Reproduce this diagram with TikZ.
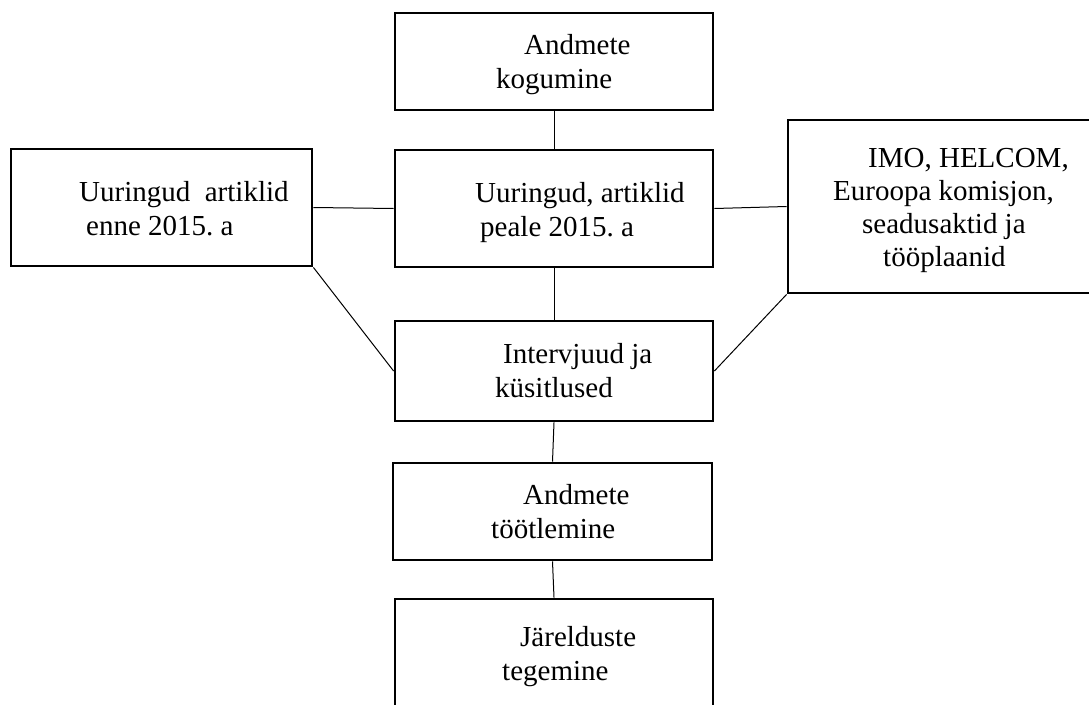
\documentclass[tikz,border=0pt]{standalone}
\usepackage{fontspec}
\setmainfont{Liberation Serif}
\frenchspacing
\begin{document}
\begin{tikzpicture}[x=1pt,y=-1pt,
  box/.style={draw,line width=2.8pt,inner sep=0pt,fill=none},
  conn/.style={line width=1pt},
  txt/.style={inner sep=0pt,anchor=base west,align=left,font=\fontsize{29}{34}\selectfont}]
\useasboundingbox (0,0) rectangle (1089,704);
\clip (0,0) rectangle (1089,704);
% boxes
\node[box,minimum width=318pt,minimum height=97pt] (b1) at (554,61.5) {};
\node[box,minimum width=318pt,minimum height=117pt] (b2) at (554,208.5) {};
\node[box,minimum width=301pt,minimum height=117pt] (bl) at (161.5,207.5) {};
\node[box,minimum width=307pt,minimum height=173pt] (br) at (941.5,206.5) {};
\node[box,minimum width=318pt,minimum height=100pt] (b3) at (554,371) {};
\node[box,minimum width=319pt,minimum height=97pt] (b4) at (552.5,511.5) {};
\node[box,minimum width=318pt,minimum height=121pt] (b5) at (554,659.5) {};
% texts
\node[txt] (t1) at (496,88) {\hspace*{28pt}Andmete\\kogumine};
\node[txt] (t2) at (475,236) {Uuringud, artiklid\\\hspace*{5pt}peale 2015. a};
\node[txt] (tl) at (79,235) {Uuringud\ \ artiklid\\\hspace*{7pt}enne 2015. a};
\node[txt,font=\fontsize{29}{32.7}\selectfont] (tr) at (833,266) {\hspace*{35pt}IMO, HELCOM,\\Euroopa komisjon,\\\hspace*{29pt}seadusaktid ja\\\hspace*{50pt}tööplaanid};
\node[txt] (t3) at (495,397) {\hspace*{8pt}Intervjuud ja\\küsitlused};
\node[txt] (t4) at (491,538) {\hspace*{32pt}Andmete\\töötlemine};
\node[txt] (t5) at (502,680) {\hspace*{18pt}Järelduste\\tegemine};
% connectors
\draw[conn] (b1.south) -- (b2.north);
\draw[conn] (b2.south) -- (b3.north);
\draw[conn] (b3.south) -- (b4.north);
\draw[conn] (b4.south) -- (b5.north);
\draw[conn] (bl.east) -- (b2.west);
\draw[conn] (b2.east) -- (br.west);
\draw[conn] (bl.south east) -- (b3.west);
\draw[conn] (br.south west) -- (b3.east);
\end{tikzpicture}
\end{document}
